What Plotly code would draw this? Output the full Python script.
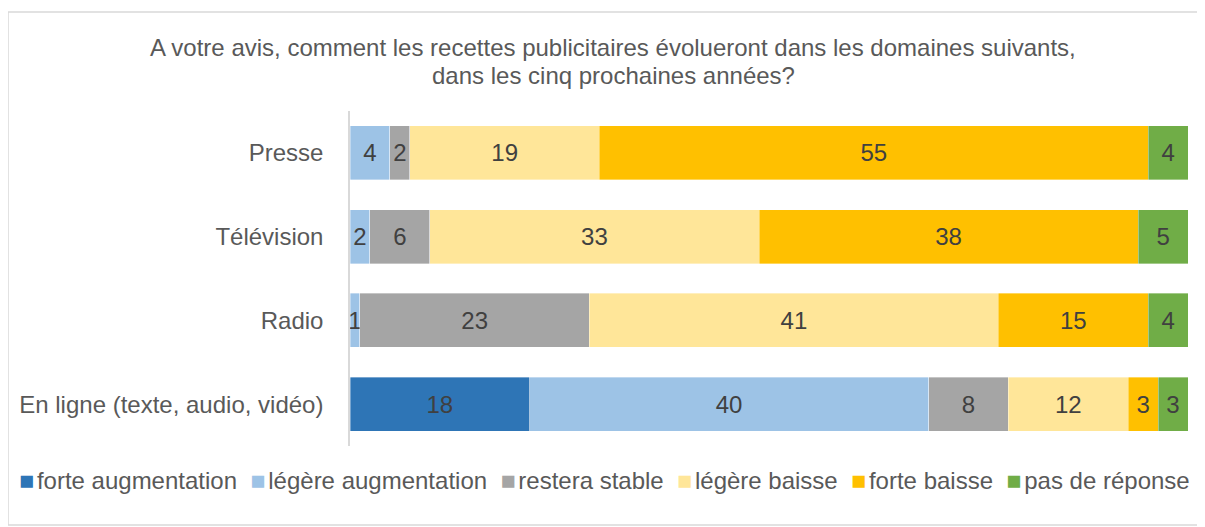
import plotly.graph_objects as go

categories = ["Presse", "Télévision", "Radio", "En ligne (texte, audio, vidéo)"]
series_names = [
    "forte augmentation",
    "légère augmentation",
    "restera stable",
    "légère baisse",
    "forte baisse",
    "pas de réponse",
]
forte_augmentation = [0, 0, 0, 18]
legere_augmentation = [4, 2, 1, 40]
restera_stable = [2, 6, 23, 8]
legere_baisse = [19, 33, 41, 12]
forte_baisse = [55, 38, 15, 3]
pas_de_reponse = [4, 5, 4, 3]

series_values = [
    forte_augmentation,
    legere_augmentation,
    restera_stable,
    legere_baisse,
    forte_baisse,
    pas_de_reponse,
]
series_colors = ["#2E75B6", "#9DC3E6", "#A5A5A5", "#FFE699", "#FFC000", "#70AD47"]

font = "Liberation Sans, Arial, sans-serif"

# page body has an 8px margin, so figure coords = screen coords - 8
W, H = 1205, 527
L, R, T, B = 342, 25, 103, 89
pw, ph = W - L - R, H - T - B


def px_x(x):
    return (x - L) / pw


def px_y(y):
    return 1 - (y - T) / ph


fig = go.Figure()
for name, vals, col in zip(series_names, series_values, series_colors):
    fig.add_trace(
        go.Bar(
            y=categories,
            x=vals,
            name=name,
            orientation="h",
            marker=dict(color=col, line=dict(color="rgba(255,255,255,0.6)", width=0.6)),
            text=[str(v) if v else "" for v in vals],
            textposition="inside",
            insidetextanchor="middle",
            constraintext="none",
            textangle=0,
            textfont=dict(family=font, size=24, color="#404040"),
            width=0.645,
            cliponaxis=False,
        )
    )

# legend drawn as one line of text, Excel style (key square right next to label)
legend_text = "  ".join(
    f'<span style="color:{c}; font-size:25px">■</span>'
    f'<span style="font-size:10px"> </span>{n}'
    for n, c in zip(series_names, series_colors)
)

title_lines = [
    "A votre avis, comment les recettes publicitaires évolueront dans les domaines suivants,",
    "dans les cinq prochaines années?",
]

fig.update_layout(
    barmode="stack",
    width=W,
    height=H,
    plot_bgcolor="white",
    paper_bgcolor="white",
    margin=dict(l=L, r=R, t=T, b=B, autoexpand=False),
    showlegend=False,
    annotations=[
        dict(
            text=line,
            xref="paper",
            yref="paper",
            x=px_x(605),
            y=px_y(yc),
            xanchor="center",
            yanchor="middle",
            showarrow=False,
            font=dict(family=font, size=24, color="#595959"),
        )
        for line, yc in zip(title_lines, [39, 68])
    ]
    + [
        dict(
            text=legend_text,
            xref="paper",
            yref="paper",
            x=px_x(596),
            y=px_y(472),
            xanchor="center",
            yanchor="middle",
            showarrow=False,
            font=dict(family=font, size=24, color="#595959"),
        )
    ],
    shapes=[
        dict(
            type="rect",
            xref="paper",
            yref="paper",
            x0=px_x(0),
            x1=px_x(1195),
            y0=px_y(517),
            y1=px_y(4),
            line=dict(color="#D9D9D9", width=1.5),
            fillcolor="rgba(0,0,0,0)",
            layer="below",
        )
    ],
)
fig.update_xaxes(range=[0, 84], visible=False, showgrid=False, zeroline=False)
fig.update_yaxes(
    autorange="reversed",
    automargin=False,
    showline=True,
    linecolor="#D9D9D9",
    linewidth=1.5,
    ticks="",
    ticksuffix="   ",
    tickfont=dict(family=font, size=24, color="#595959"),
    showgrid=False,
)

fig.write_html("out.html")
